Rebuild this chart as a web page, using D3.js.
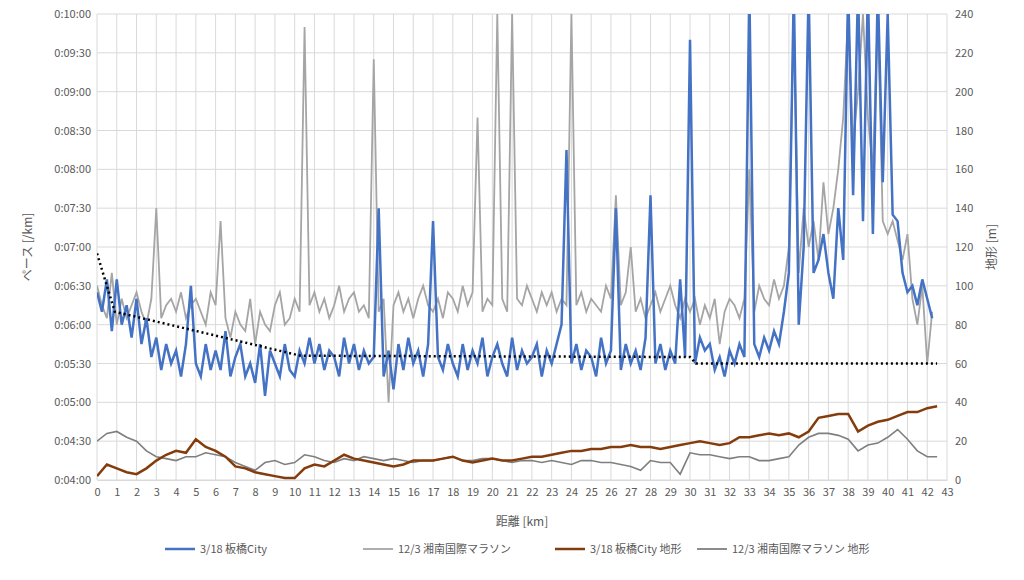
<!DOCTYPE html>
<html><head><meta charset="utf-8">
<script src="https://cdn.jsdelivr.net/npm/d3@7"></script>
<style>body{margin:0;background:#fff}text{font-family:"Noto Sans CJK JP","Noto Sans",sans-serif;fill:#595959}</style>
</head><body><svg id="c" width="1024" height="580"></svg>
<script>
// pace (seconds per km) every 0.25 km
const paceStep = 0.25;
const pace318 = [385,370,395,355, 395,360,375,350, 380,345,365,335, 350,325,345,330, 340,320,345,390,
 330,320,345,325, 340,325,355,320, 335,345,320,330, 315,345,305,340, 330,320,345,325,
 320,340,330,350, 330,345,325,340, 335,320,350,330, 345,325,340,330, 335,450,320,340,
 310,345,325,350, 330,340,320,345, 440,335,325,345, 330,320,345,325, 340,330,350,320,
 335,345,330,320, 350,325,340,330, 335,345,320,340, 330,345,360,495, 330,345,325,340,
 335,320,350,330, 340,450,325,345, 330,340,325,350, 460,330,345,325, 340,330,395,335,
 580,330,350,340, 345,325,335,320, 340,330,345,335, 620,345,335,350, 340,355,345,370,
 400,620,360,420, 620,400,410,430, 400,380,450,410, 620,460,620,440, 620,430,620,470,
 600,445,440,400, 385,390,375,395, 380,365];
const pace123 = [390,375,365,400, 360,380,365,375, 385,370,360,380, 450,365,375,380, 370,385,365,375,
 380,370,360,385, 375,440,365,350, 370,360,355,380, 345,370,360,355, 375,385,360,365,
 380,370,590,375, 385,370,380,365, 375,390,370,380, 385,370,375,365, 565,370,380,300,
 375,385,370,380, 365,380,390,375, 370,380,365,385, 380,370,390,375, 385,520,370,380,
 375,600,380,370, 600,380,375,390, 380,370,385,375, 385,370,380,375, 600,375,385,370,
 380,375,370,390, 380,460,375,385, 420,370,380,365, 375,385,370,380, 390,375,365,380,
 370,380,360,375, 365,380,345,370, 380,375,365,380, 480,370,390,380, 375,395,380,390,
 420,600,400,450, 420,440,410,470, 430,450,480,520, 600,500,540,600, 520,480,600,440,
 430,440,425,410, 430,380,360,390, 330,370];
// terrain (m) every 0.5 km
const terrStep = 0.5;
const terr318 = [2,8,6,4,3,6,10,13,15,14,21,17,15,12,7,6,4,3,2,1,1,6,8,7,10,13,11,10,9,8,7,8,10,10,10,11,12,10,9,10,11,10,10,11,12,12,13,14,15,15,16,16,17,17,18,17,17,16,17,18,19,20,19,18,19,22,22,23,24,23,24,22,25,32,33,34,34,25,28,30,31,33,35,35,37,38];
const terr123 = [20,24,25,22,20,15,12,11,10,12,12,14,13,12,9,7,5,9,10,8,9,13,12,10,9,11,10,12,11,10,11,10,9,10,10,11,12,10,10,11,11,10,9,10,10,9,10,9,8,10,10,9,9,8,7,5,10,9,9,3,14,13,13,12,11,12,12,10,10,11,12,18,22,24,24,23,21,15,18,19,22,26,21,15,12,12];
// trend line (km, seconds)
const trendKm = [0,0.5,0.9,10.3,30,30.3,42.5];
const trendSec = [415,390,370,336,335,330,330];
const legendNames = ["3/18 板橋City","12/3 湘南国際マラソン","3/18 板橋City 地形","12/3 湘南国際マラソン 地形"];
const colors = ["#4472c4","#a5a5a5","#843c0c","#7f7f7f"];

const svg = d3.select("#c");
const L=97,R=947,T=14,B=480;
const x = d3.scaleLinear().domain([0,43]).range([L,R]);
const y = d3.scaleLinear().domain([240,600]).range([B,T]);
const y2 = d3.scaleLinear().domain([0,240]).range([B,T]);
const g = svg.append("g");
g.selectAll(".v").data(d3.range(0,44)).join("line").attr("x1",d=>x(d)).attr("x2",d=>x(d)).attr("y1",T).attr("y2",B).attr("stroke","#d9d9d9");
g.selectAll(".h").data(d3.range(240,601,30)).join("line").attr("x1",L).attr("x2",R).attr("y1",d=>y(d)).attr("y2",d=>y(d)).attr("stroke","#d9d9d9");
const fmt = s=>"0:"+String(Math.floor(s/60)).padStart(2,"0")+":"+String(s%60).padStart(2,"0");
svg.append("g").attr("transform",`translate(${L},0)`).call(d3.axisLeft(y).tickValues(d3.range(240,601,30)).tickFormat(fmt).tickSize(0).tickPadding(6)).call(a=>a.select(".domain").remove()).selectAll("text").style("font-size","11px");
svg.append("g").attr("transform",`translate(${R},0)`).call(d3.axisRight(y2).tickValues(d3.range(0,241,20)).tickSize(0).tickPadding(8)).call(a=>a.select(".domain").remove()).selectAll("text").style("font-size","11px");
svg.append("g").attr("transform",`translate(0,${B})`).call(d3.axisBottom(x).tickValues(d3.range(0,44)).tickSize(0).tickPadding(8)).call(a=>a.select(".domain").attr("stroke","#d9d9d9")).selectAll("text").style("font-size","11px");
svg.append("text").attr("x",(L+R)/2).attr("y",526).attr("text-anchor","middle").style("font-size","12px").text("距離 [km]");
svg.append("text").attr("transform","translate(32,247) rotate(-90)").attr("text-anchor","middle").style("font-size","12px").text("ペース [/km]");
svg.append("text").attr("transform","translate(996,247) rotate(-90)").attr("text-anchor","middle").style("font-size","12px").text("地形 [m]");
svg.append("clipPath").attr("id","clip").append("rect").attr("x",L).attr("y",T).attr("width",R-L).attr("height",B-T);
const p = svg.append("g").attr("clip-path","url(#clip)");
const line = (ys,step)=>d3.line().x((d,i)=>x(i*step)).y(d=>ys(d));
p.append("path").attr("d",line(y2,terrStep)(terr123)).attr("fill","none").attr("stroke",colors[3]).attr("stroke-width",1.6);
p.append("path").attr("d",line(y2,terrStep)(terr318)).attr("fill","none").attr("stroke",colors[2]).attr("stroke-width",2.5);
p.append("path").attr("d",line(y,paceStep)(pace123)).attr("fill","none").attr("stroke",colors[1]).attr("stroke-width",1.8);
p.append("path").attr("d",line(y,paceStep)(pace318)).attr("fill","none").attr("stroke",colors[0]).attr("stroke-width",2.5);
p.append("path").attr("d",d3.line().x((d,i)=>x(trendKm[i])).y(d=>y(d))(trendSec)).attr("fill","none").attr("stroke","#000").attr("stroke-width",2.5).attr("stroke-dasharray","2,3");
const lx=[165,363,555,697];
legendNames.forEach((n,i)=>{
  svg.append("line").attr("x1",lx[i]).attr("x2",lx[i]+30).attr("y1",549).attr("y2",549).attr("stroke",colors[i]).attr("stroke-width",i%2?1.8:2.5);
  svg.append("text").attr("x",lx[i]+35).attr("y",553).style("font-size","11px").text(n);
});
</script></body></html>
